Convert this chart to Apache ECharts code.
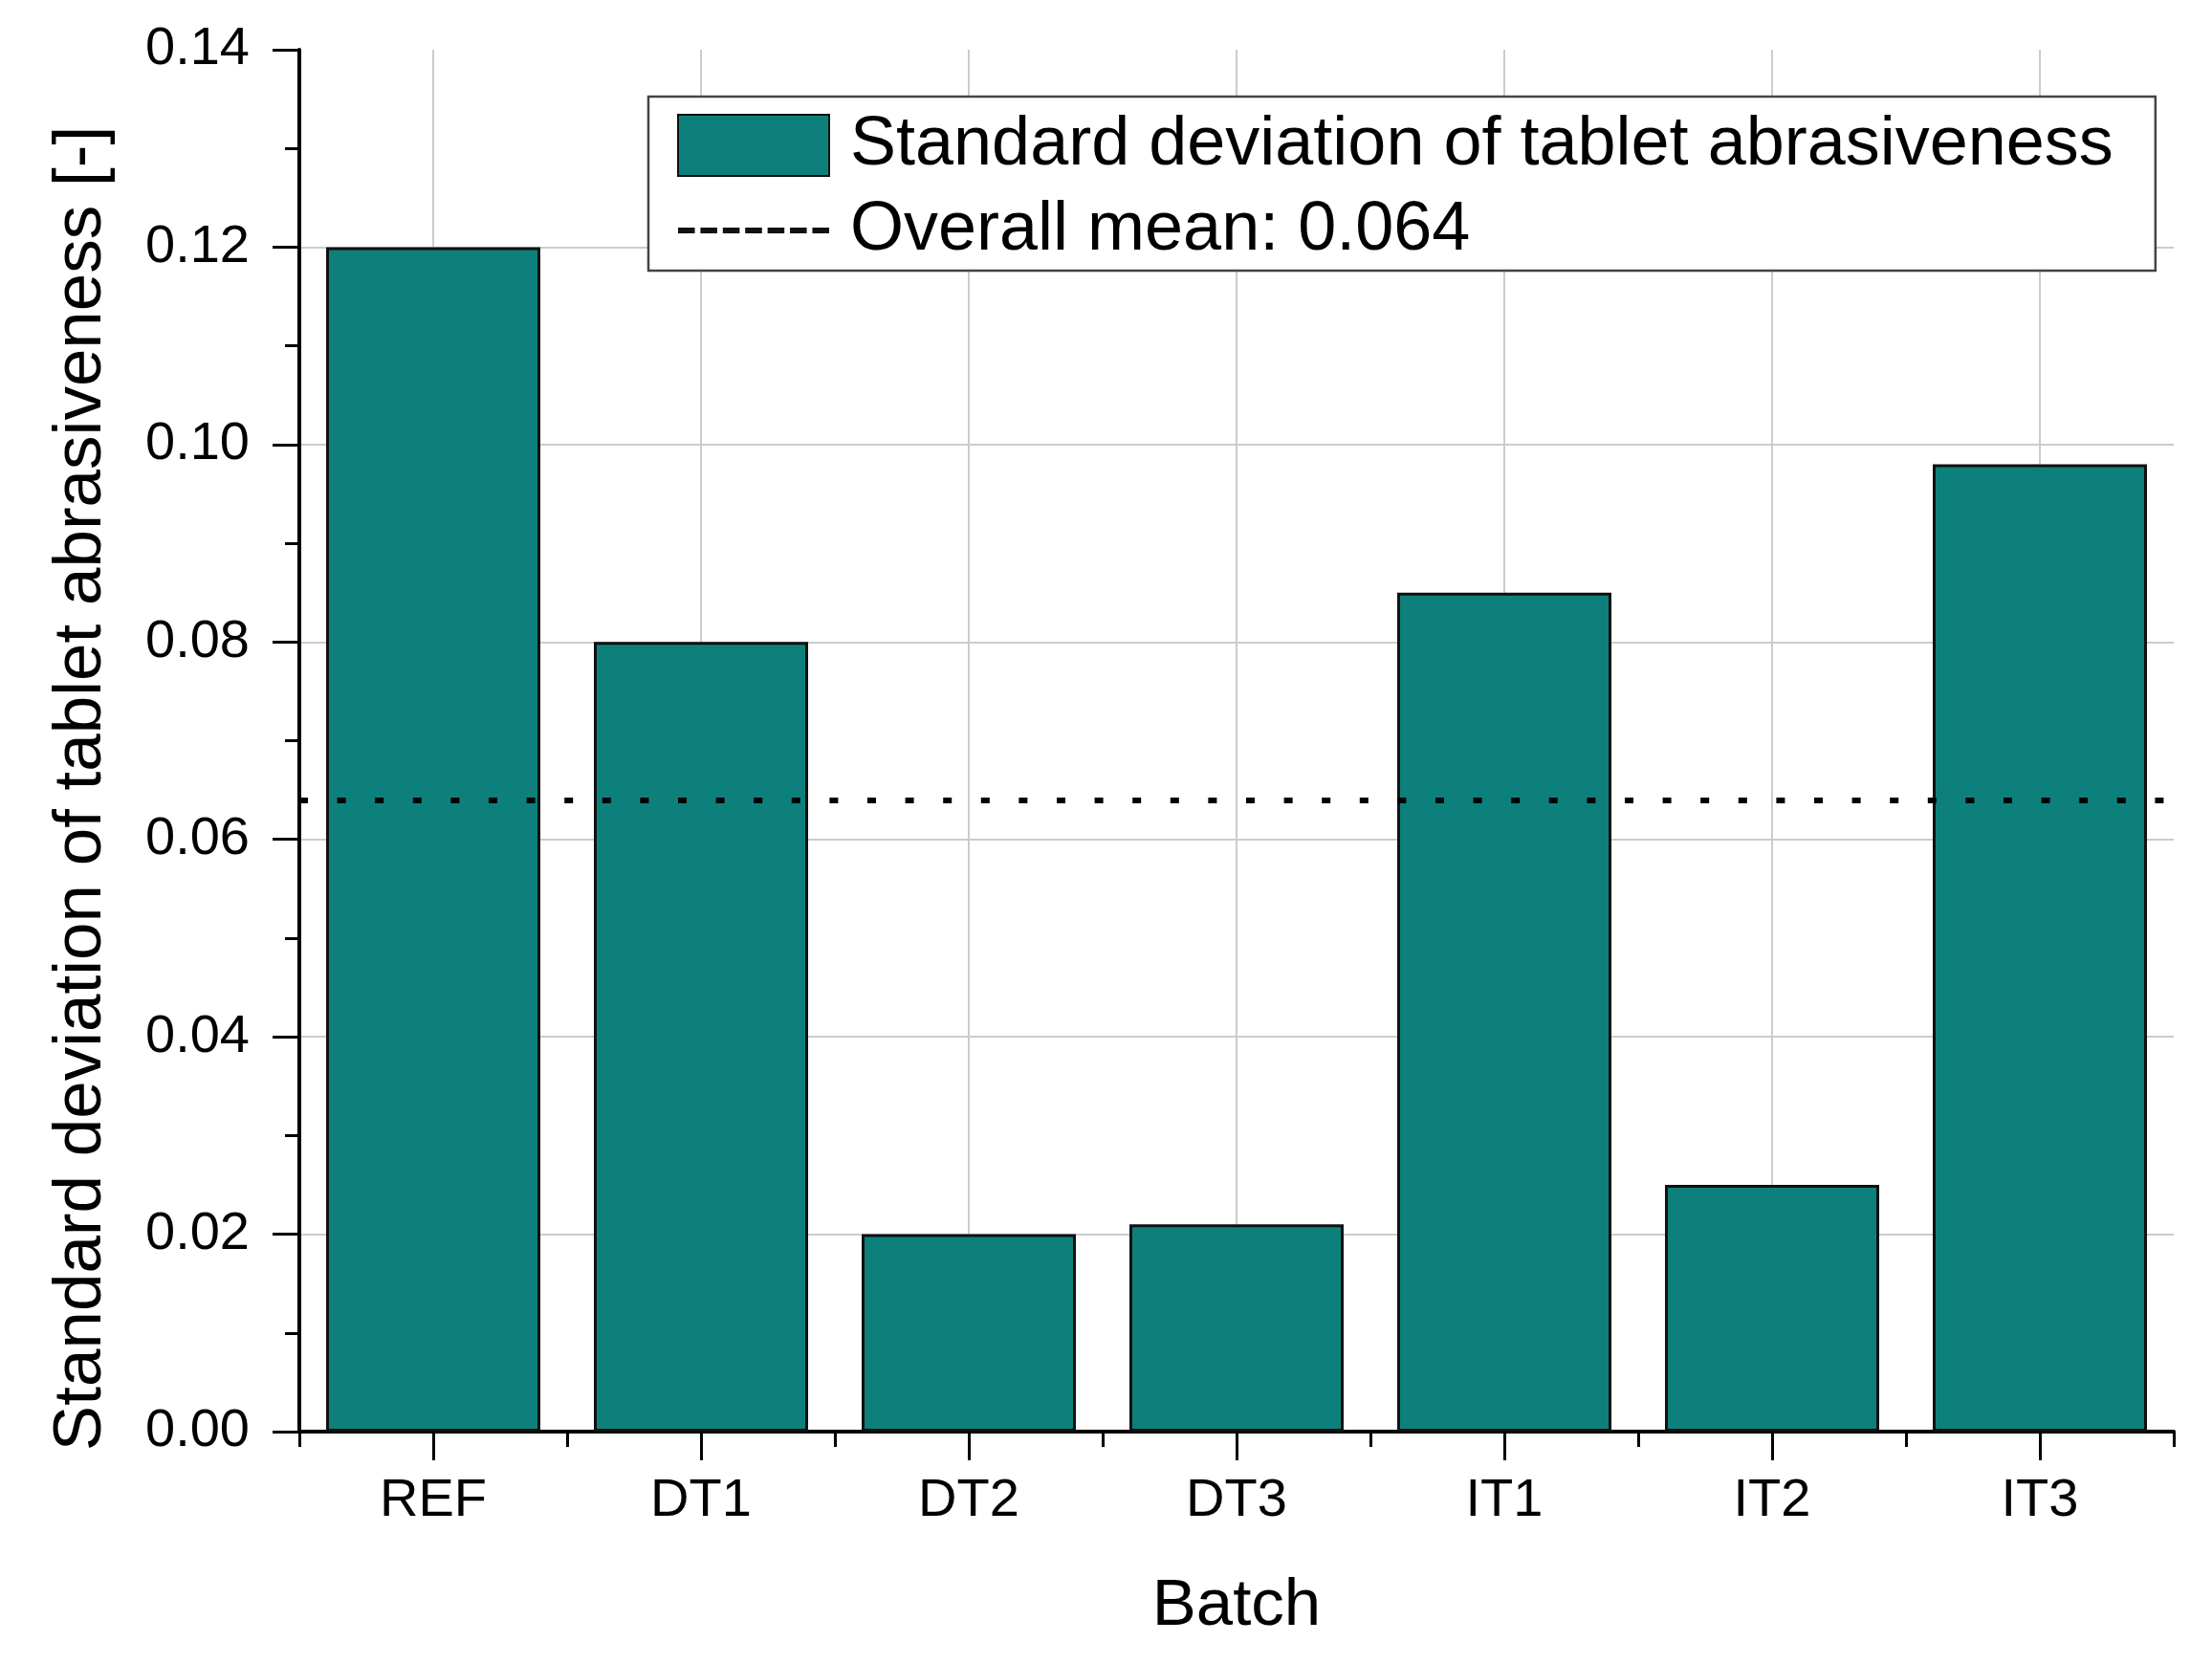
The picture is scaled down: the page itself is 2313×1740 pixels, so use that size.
<!DOCTYPE html>
<html>
<head>
<meta charset="utf-8">
<script src="https://cdn.jsdelivr.net/npm/echarts@6/dist/echarts.min.js"></script>
<style>
html,body{margin:0;padding:0;background:#fff;}
#c{width:2313px;height:1740px;}
</style>
</head>
<body>
<div id="c"></div>
<script>
const categories = ['REF', 'DT1', 'DT2', 'DT3', 'IT1', 'IT2', 'IT3'];
const stdDev = [0.120, 0.080, 0.020, 0.021, 0.085, 0.025, 0.098];
const overallMean = 0.064;
const barName = 'Standard deviation of tablet abrasiveness';
const meanName = 'Overall mean: 0.064';
const yMin = 0, yMax = 0.14, yStep = 0.02;

// legend icon for the dashed "mean" entry: 7 short dashes
const dashIcon = 'path://' + Array.from({ length: 7 }, (_, i) => 'M' + (i * 20) + ',0h15v5h-15z').join(' ');

const FONT = "'Liberation Sans', Arial, sans-serif";
const chart = echarts.init(document.getElementById('c'));
chart.setOption({
  backgroundColor: '#ffffff',
  animation: false,
  textStyle: { fontFamily: FONT, color: '#000' },
  grid: { left: 313, top: 52, right: 40, bottom: 243, containLabel: false },
  legend: {
    orient: 'vertical',
    left: 678, top: 101,
    padding: [15, 44, 6, 30],
    itemWidth: 158, itemHeight: 64, itemGap: 17,
    backgroundColor: '#fff',
    borderColor: '#444', borderWidth: 2.5, borderRadius: 0,
    textStyle: { fontFamily: FONT, fontSize: 72, lineHeight: 70, color: '#000', padding: [0, 0, 0, 17] },
    data: [
      { name: barName, icon: 'rect' },
      {
        name: meanName,
        icon: dashIcon,
        itemStyle: { color: '#111', borderWidth: 0 }
      }
    ]
  },
  xAxis: [{
    type: 'category',
    data: categories,
    position: 'bottom',
    name: 'Batch',
    nameLocation: 'middle',
    nameGap: 148,
    nameTextStyle: { fontFamily: FONT, fontSize: 69, color: '#000' },
    axisLine: { show: true, lineStyle: { color: '#000', width: 4 } },
    axisTick: { show: true, alignWithLabel: true, interval: 0, length: 30, lineStyle: { color: '#000', width: 3 } },
    axisLabel: { show: true, interval: 0, margin: 45, fontSize: 56, fontFamily: FONT, color: '#000' },
    splitLine: { show: true, alignWithLabel: true, interval: 0, lineStyle: { color: '#cccccc', width: 2 } }
  }, {
    type: 'category',
    data: categories,
    position: 'bottom',
    axisLine: { show: false },
    axisTick: { show: true, interval: 0, length: 16, lineStyle: { color: '#000', width: 3 } },
    axisLabel: { show: false },
    splitLine: { show: false }
  }],
  yAxis: {
    type: 'value',
    min: yMin, max: yMax, interval: yStep,
    name: 'Standard deviation of tablet abrasiveness [-]',
    nameLocation: 'middle',
    nameGap: 192,
    nameTextStyle: { fontFamily: FONT, fontSize: 71, color: '#000', padding: [0, 100, 0, 0] },
    axisLine: { show: true, lineStyle: { color: '#000', width: 4 } },
    axisTick: { show: true, length: 28, lineStyle: { color: '#000', width: 3 } },
    minorTick: { show: true, splitNumber: 2, length: 15, lineStyle: { color: '#000', width: 3 } },
    axisLabel: { margin: 52, fontSize: 56, fontFamily: FONT, color: '#000', formatter: v => v.toFixed(2) },
    splitLine: { show: true, showMaxLine: false, showMinLine: false, lineStyle: { color: '#cccccc', width: 2 } }
  },
  series: [{
    name: barName,
    type: 'bar',
    xAxisIndex: 0,
    data: stdDev,
    barWidth: '80%',
    itemStyle: { color: '#0d807c', borderColor: '#111', borderWidth: 3 },
    z: 2
  }, {
    name: meanName,
    type: 'line',
    xAxisIndex: 0,
    data: categories.map(() => overallMean),
    symbol: 'none',
    showSymbol: false,
    lineStyle: { color: '#000', width: 5, type: [15, 5], opacity: 0 },
    itemStyle: { color: '#111' },
    z: 3,
    markLine: {
      silent: true,
      precision: 4,
      symbol: ['none', 'none'],
      label: { show: false },
      lineStyle: { color: '#000', width: 6, type: [9, 30.6], opacity: 1 },
      data: [{ yAxis: overallMean }]
    }
  }]
});
</script>
</body>
</html>
